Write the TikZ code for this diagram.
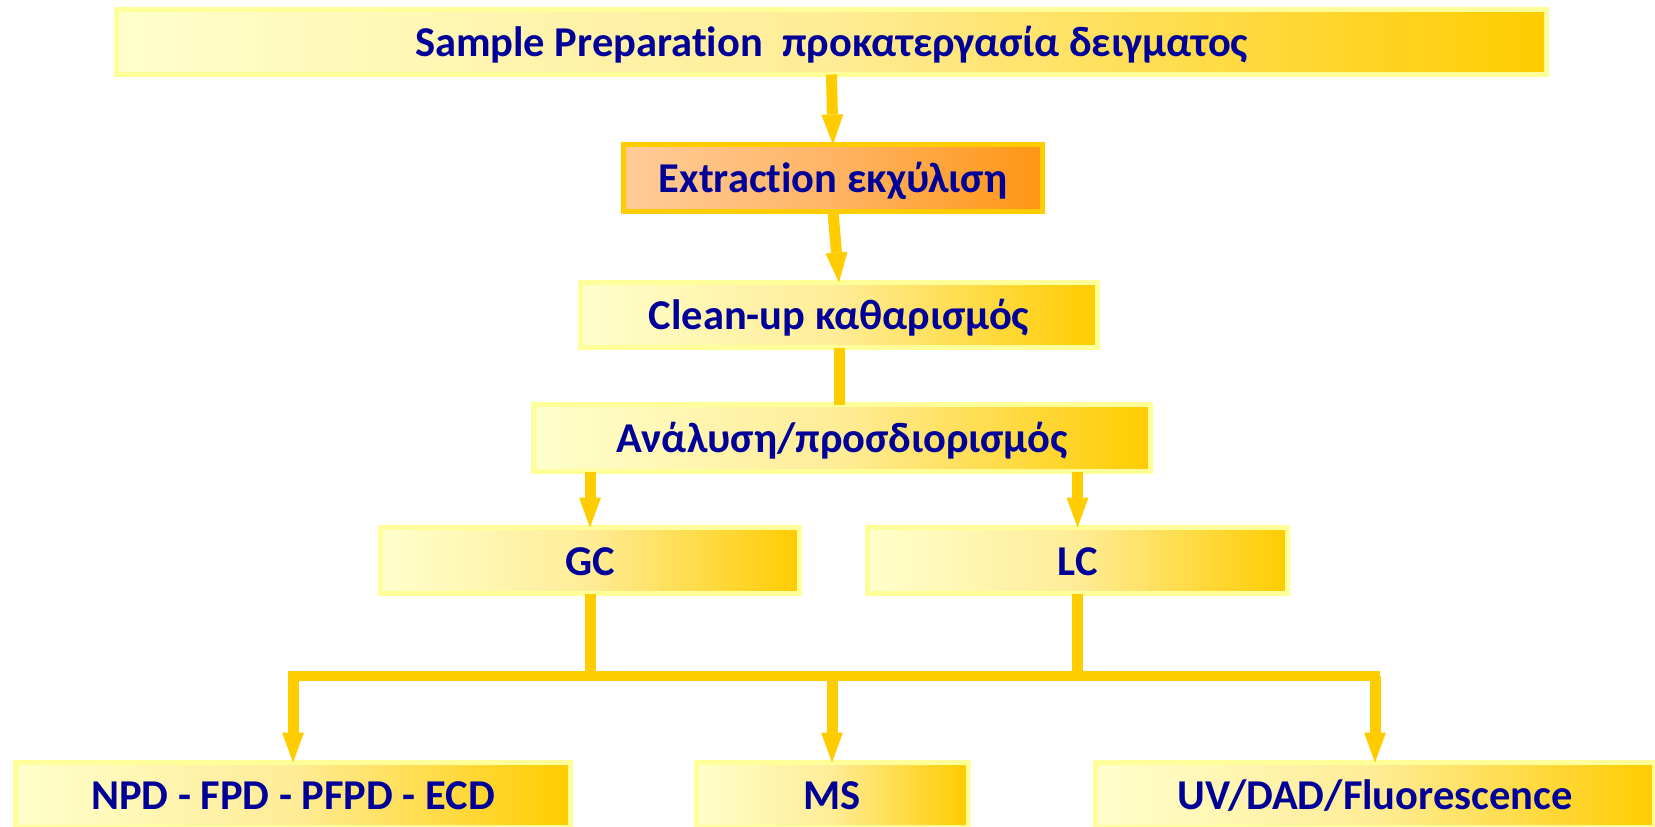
\documentclass[tikz,border=0pt]{standalone}
\usepackage{fontspec}
\setmainfont[Ligatures={NoCommon}]{Carlito}
\usetikzlibrary{arrows.meta,calc}
\definecolor{gold}{RGB}{255,204,0}
\definecolor{lightyel}{RGB}{255,255,204}
\definecolor{midyel}{RGB}{255,236,150}
\definecolor{bordyel}{RGB}{255,255,153}
\definecolor{navy}{RGB}{0,0,153}
\definecolor{peach}{RGB}{255,204,153}
\definecolor{midorng}{RGB}{255,180,100}
\definecolor{orng}{RGB}{255,150,20}
\begin{document}
\begin{tikzpicture}[x=1pt,y=-1pt,
  box/.style={draw=bordyel, line width=5pt, left color=lightyel, right color=gold, middle color=midyel,
    inner sep=0pt, outer sep=0pt, text=navy, font=\fontsize{42.5}{48}\bfseries\selectfont,
    text height=29.5pt, text depth=0pt, minimum height=65pt},
  obox/.style={box, draw=gold, left color=peach, right color=orng, middle color=midorng},
  conn/.style={draw=gold, line width=11pt},
  arr/.style={conn, -{Triangle[width=22pt,length=30pt,line width=0pt]}}
]
\useasboundingbox (0,0) rectangle (1655,827);
\node[box, minimum width=1430pt] (top) at (831.5,42) {Sample Preparation \ προκατεργασία δειγματος};
\node[obox, minimum width=419pt, minimum height=67pt] (ext) at (833,178) {Extraction εκχύλιση};
\node[box, minimum width=517pt] (clean) at (839,315) {Clean-up καθαρισμός};
\node[box, minimum width=617pt, minimum height=67pt] (ana) at (842,438) {Ανάλυση/προσδιορισμός};
\node[box, minimum width=419pt, minimum height=66pt] (gc) at (590,560.5) {GC};
\node[box, minimum width=420pt, minimum height=66pt] (lc) at (1077.5,560.5) {LC};
\node[box, minimum width=555pt] (npd) at (293,795) {NPD - FPD - PFPD - ECD};
\node[box, minimum width=272pt] (ms) at (832,795) {MS};
\node[box, minimum width=559pt] (uv) at (1375,795) {UV/DAD/Fluorescence};
\coordinate (bar) at (0,676);

\draw[arr] (top.south) -- (ext.north);
\draw[arr] (ext.south) -- (clean.north);
\draw[conn] (clean.south) -- (clean.south |- ana.north);
\draw[arr] (gc.north |- ana.south) -- (gc.north);
\draw[arr] (lc.north |- ana.south) -- (lc.north);
\draw[conn] (gc.south) -- (gc.south |- bar);
\draw[conn] (lc.south) -- (lc.south |- bar);
\draw[conn, line width=10pt, line cap=rect] (npd.north |- bar) -- (uv.north |- bar);
\draw[arr] (npd.north |- bar) -- (npd.north);
\draw[arr] (ms.north |- bar) -- (ms.north);
\draw[arr] (uv.north |- bar) -- (uv.north);
\end{tikzpicture}
\end{document}
